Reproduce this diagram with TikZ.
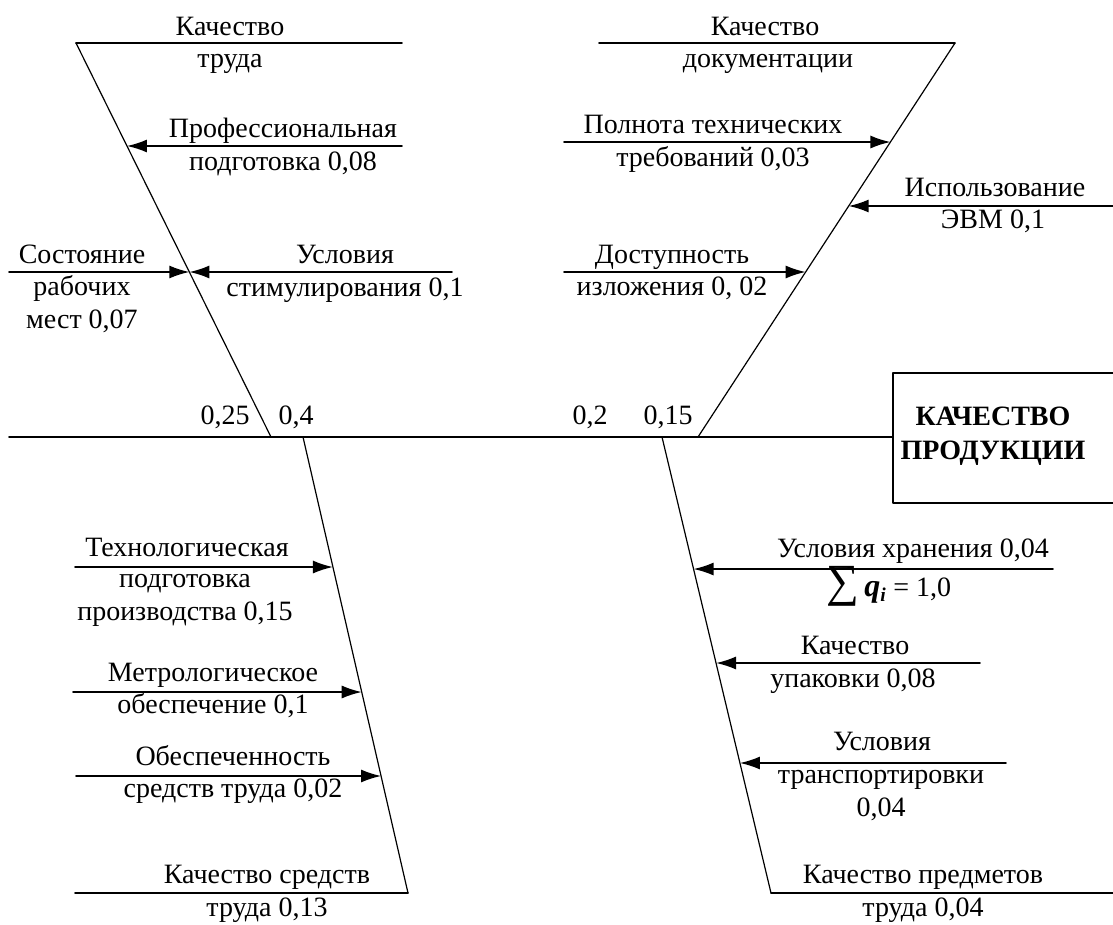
\documentclass[tikz,border=0pt]{standalone}
\usepackage{fontspec}
\setmainfont{Liberation Serif}
\usetikzlibrary{arrows.meta,calc}

\begin{document}
\begin{tikzpicture}[x=1pt,y=-1pt,line cap=round,line join=round,
  bone/.style={line width=1.2pt},
  rib/.style={line width=1.6pt},
  arr/.style={rib,-{Latex[length=20pt,width=13pt]}},
  lbl/.style={anchor=base,inner sep=0pt,align=center,font=\fontsize{28}{33}\selectfont}]
  \useasboundingbox (0,0) rectangle (1113,924);
  % head of the fish
  \node[draw,line width=1.6pt,minimum width=240pt,minimum height=130pt,
        inner sep=0pt,anchor=north west] (box) at (892,372) {};
  \node[lbl,font=\fontsize{28}{34}\selectfont\bfseries] (prod) at (993,459) {КАЧЕСТВО\\ПРОДУКЦИИ};
  \coordinate (spL) at (9,437);
  \draw[rib] (spL) -- (spL -| box.west);
  % bones
  \coordinate (ulT) at (76,43);   \coordinate (ulS) at (271,437);
  \coordinate (urT) at (955,43);  \coordinate (urS) at (698,437);
  \coordinate (llS) at (303,437); \coordinate (llB) at (408,893);
  \coordinate (lrS) at (662,437); \coordinate (lrB) at (771,893);
  \coordinate (ulE) at (402,43);  \coordinate (urE) at (599,43);
  \coordinate (llE) at (75,893);  \coordinate (lrE) at (1113,893);
  \draw[bone] (ulT) -- (ulS);
  \draw[bone] (urT) -- (urS);
  \draw[bone] (llS) -- (llB);
  \draw[bone] (lrS) -- (lrB);
  \draw[rib] (ulT) -- (ulE);
  \draw[rib] (urE) -- (urT);
  \draw[rib] (llE) -- (llB);
  \draw[rib] (lrB) -- (lrE);
  % free ends of the ribs
  \coordinate (prof) at (402,146);  \coordinate (stim) at (452,272);
  \coordinate (rab) at (9,272);     \coordinate (poln) at (564,142);
  \coordinate (evm) at (1113,206);  \coordinate (dost) at (564,272);
  \coordinate (tech) at (75,567);   \coordinate (metr) at (73,692);
  \coordinate (obes) at (76,776);   \coordinate (hran) at (1053,569);
  \coordinate (upak) at (980,663);  \coordinate (trans) at (1006,763);
  % where they meet the bones
  \coordinate (profT) at ($(ulT)!0.2614!(ulS)$);
  \coordinate (stimT) at ($(ulT)!0.5812!(ulS)$);
  \coordinate (polnT) at ($(urT)!0.2513!(urS)$);
  \coordinate (evmT) at ($(urT)!0.4137!(urS)$);
  \coordinate (dostT) at ($(urT)!0.5812!(urS)$);
  \coordinate (techT) at ($(llS)!0.2851!(llB)$);
  \coordinate (metrT) at ($(llS)!0.5592!(llB)$);
  \coordinate (obesT) at ($(llS)!0.7434!(llB)$);
  \coordinate (hranT) at ($(lrS)!0.2895!(lrB)$);
  \coordinate (upakT) at ($(lrS)!0.4956!(lrB)$);
  \coordinate (transT) at ($(lrS)!0.7149!(lrB)$);
  \draw[arr] (prof) -- (profT);
  \draw[arr] (stim) -- (stimT);
  \draw[arr] (rab) -- (stimT);
  \draw[arr] (poln) -- (polnT);
  \draw[arr] (evm) -- (evmT);
  \draw[arr] (dost) -- (dostT);
  \draw[arr] (tech) -- (techT);
  \draw[arr] (metr) -- (metrT);
  \draw[arr] (obes) -- (obesT);
  \draw[arr] (hran) -- (hranT);
  \draw[arr] (upak) -- (upakT);
  \draw[arr] (trans) -- (transT);
  % labels
  \node[lbl] (kt1) at (230,35) {Качество};
  \node[lbl] (kt2) at (230,67) {труда};
  \node[lbl] (pr1) at (283,137) {Профессиональная};
  \node[lbl] (pr2) at (283,170) {подготовка 0,08};
  \node[lbl] (st1) at (345,263) {Условия};
  \node[lbl] (st2) at (345,296) {стимулирования 0,1};
  \node[lbl] (rb1) at (82,263) {Состояние};
  \node[lbl] (rb2) at (82,328) {рабочих\\мест 0,07};
  \node[lbl] (kd1) at (765,35) {Качество};
  \node[lbl] (kd2) at (768,67) {документации};
  \node[lbl] (pl1) at (713,133) {Полнота технических};
  \node[lbl] (pl2) at (713,166) {требований 0,03};
  \node[lbl] (ev1) at (995,196) {Использование};
  \node[lbl] (ev2) at (993,228) {ЭВМ 0,1};
  \node[lbl] (ds1) at (672,263) {Доступность};
  \node[lbl] (ds2) at (672,295) {изложения 0, 02};
  \node[lbl] (w25) at (225,424) {0,25};
  \node[lbl] (w4) at (296,424) {0,4};
  \node[lbl] (w2) at (590,424) {0,2};
  \node[lbl] (w15) at (668,424) {0,15};
  \node[lbl] (tc1) at (187,556) {Технологическая};
  \node[lbl] (tc2) at (185,620) {подготовка\\производства 0,15};
  \node[lbl] (mt1) at (213,681) {Метрологическое};
  \node[lbl] (mt2) at (213,713) {обеспечение 0,1};
  \node[lbl] (ob1) at (233,765) {Обеспеченность};
  \node[lbl] (ob2) at (233,797) {средств труда 0,02};
  \node[lbl] (ks1) at (267,883) {Качество средств};
  \node[lbl] (ks2) at (267,916) {труда 0,13};
  \node[lbl] (hr1) at (913,557) {Условия хранения 0,04};
  \node[lbl] (sum) at (889,596) {{\fontsize{46}{46}\selectfont ∑}\,{\fontsize{32}{32}\selectfont\textbf{\textit{q}}}\textsubscript{\textbf{\textit{i}}} = 1,0};
  \node[lbl] (up1) at (855,654) {Качество};
  \node[lbl] (up2) at (853,687) {упаковки 0,08};
  \node[lbl] (tr1) at (882,750) {Условия};
  \node[lbl] (tr2) at (881,816) {транспортировки\\0,04};
  \node[lbl] (kp1) at (923,883) {Качество предметов};
  \node[lbl] (kp2) at (923,916) {труда 0,04};
\end{tikzpicture}
\end{document}
